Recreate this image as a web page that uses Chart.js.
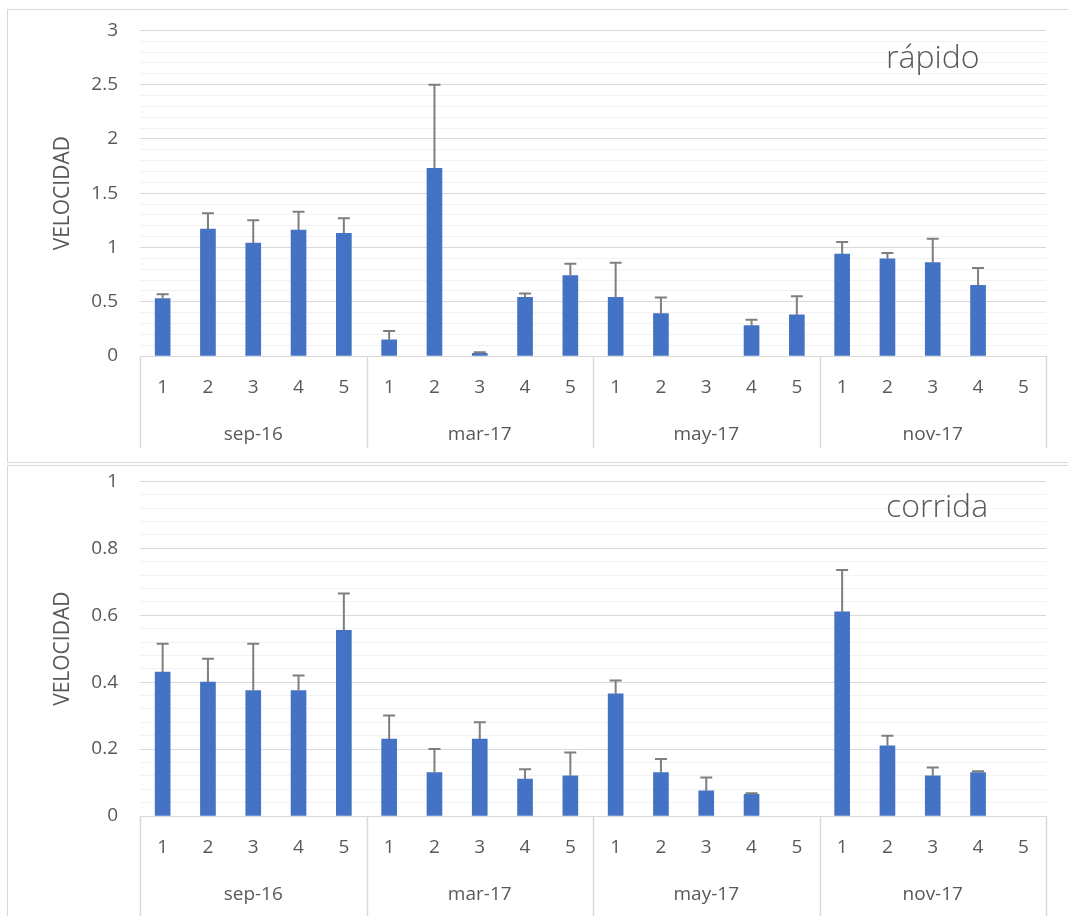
<!DOCTYPE html>
<html lang="es">
<head>
<meta charset="utf-8">
<script src="https://cdn.jsdelivr.net/npm/chart.js@4.4.1/dist/chart.umd.min.js"></script>
<style>
    body { margin: 0; background: #fff; width: 1068px; height: 916px; overflow: hidden; position: relative; }
    .marco { position: absolute; left: 7px; width: 1100px; border: 1px solid #d9d9d9; box-sizing: border-box; }
    #marcoRapido { top: 9px; height: 454px; }
    #marcoCorrida { top: 465px; height: 470px; }
    .lienzo { position: absolute; left: 0; width: 1068px; }
    #wrapRapido { top: -3px; height: 466px; }
    #wrapCorrida { top: 448px; height: 468px; }
</style>
</head>
<body>
<div class="marco" id="marcoRapido"></div>
<div class="marco" id="marcoCorrida"></div>
<div class="lienzo" id="wrapRapido"><canvas id="chartRapido"></canvas></div>
<div class="lienzo" id="wrapCorrida"><canvas id="chartCorrida"></canvas></div>
<script>
// Datos
const CATEGORIAS = ['1', '2', '3', '4', '5', '1', '2', '3', '4', '5', '1', '2', '3', '4', '5', '1', '2', '3', '4', '5'];
const GRUPOS = ['sep-16', 'mar-17', 'may-17', 'nov-17'];
const POR_GRUPO = 5;

// rápido (media y barra de error positiva)
const RAPIDO_VALORES = [0.53, 1.17, 1.04, 1.16, 1.13, 0.15, 1.73, 0.025, 0.54, 0.74, 0.54, 0.39, null, 0.28, 0.38, 0.94, 0.895, 0.86, 0.65, null];
const RAPIDO_ERROR = [0.04, 0.145, 0.21, 0.17, 0.14, 0.08, 0.77, 0.01, 0.035, 0.11, 0.32, 0.15, null, 0.055, 0.17, 0.11, 0.055, 0.22, 0.16, null];

// corrida
const CORRIDA_VALORES = [0.43, 0.40, 0.375, 0.375, 0.555, 0.23, 0.13, 0.23, 0.11, 0.12, 0.365, 0.13, 0.075, 0.065, null, 0.61, 0.21, 0.12, 0.13, null];
const CORRIDA_ERROR = [0.085, 0.07, 0.14, 0.045, 0.11, 0.07, 0.07, 0.05, 0.03, 0.07, 0.04, 0.04, 0.04, 0.003, null, 0.125, 0.03, 0.025, 0.004, null];

const FUENTE = "'Open Sans', sans-serif";
const GRIS_TEXTO = '#595959';
const AZUL = '#4472c4';

// Barras de error (solo hacia arriba, con tapa)
const barrasError = {
    id: 'barrasError',
    afterDatasetsDraw(chart, args, opts) {
        const meta = chart.getDatasetMeta(0);
        const y = chart.scales.y;
        const datos = chart.data.datasets[0].data;
        const ctx = chart.ctx;
        ctx.save();
        ctx.strokeStyle = '#7f7f7f';
        ctx.lineWidth = 2;
        meta.data.forEach((barra, i) => {
            const v = datos[i];
            const e = opts.errores[i];
            if (v == null || e == null) return;
            const yTop = y.getPixelForValue(v + e);
            ctx.beginPath();
            ctx.moveTo(barra.x, barra.y);
            ctx.lineTo(barra.x, yTop);
            ctx.moveTo(barra.x - 6, yTop);
            ctx.lineTo(barra.x + 6, yTop);
            ctx.stroke();
        });
        ctx.restore();
    }
};

// Eje de categorías en dos niveles + título dentro del gráfico
const ejeGrupos = {
    id: 'ejeGrupos',
    afterDraw(chart, args, opts) {
        const x = chart.scales.x;
        const base = chart.scales.y.bottom;
        const ctx = chart.ctx;
        ctx.save();
        ctx.fillStyle = GRIS_TEXTO;
        ctx.textAlign = 'center';
        ctx.textBaseline = 'middle';
        ctx.font = '19px ' + FUENTE;
        CATEGORIAS.forEach((c, i) => {
            ctx.fillText(c, x.getPixelForValue(i), base + 32);
        });

        // separadores entre grupos
        const limites = [x.left];
        for (let g = 1; g < GRUPOS.length; g++) {
            const i = g * POR_GRUPO;
            limites.push((x.getPixelForValue(i - 1) + x.getPixelForValue(i)) / 2);
        }
        limites.push(x.right);
        ctx.strokeStyle = '#d9d9d9';
        ctx.lineWidth = 1.5;
        limites.forEach(px => {
            ctx.beginPath();
            ctx.moveTo(Math.round(px) + 0.5, base);
            ctx.lineTo(Math.round(px) + 0.5, base + opts.largo);
            ctx.stroke();
        });
        GRUPOS.forEach((g, k) => {
            ctx.fillText(g, (limites[k] + limites[k + 1]) / 2, base + 79);
        });

        // título
        ctx.font = '300 32px ' + FUENTE;
        ctx.textAlign = 'left';
        ctx.textBaseline = 'alphabetic';
        ctx.fillText(opts.titulo, 886, opts.tituloY);
        ctx.restore();
    }
};

function esMayor(v, mayor) {
    const r = v / mayor;
    return Math.abs(r - Math.round(r)) < 1e-6;
}

function crearGrafico(id, valores, errores, eje) {
    const ctx = document.getElementById(id).getContext('2d');
    return new Chart(ctx, {
        type: 'bar',
        data: {
            labels: CATEGORIAS,
            datasets: [{
                data: valores,
                backgroundColor: AZUL,
                barThickness: 15
            }]
        },
        options: {
            responsive: true,
            maintainAspectRatio: false,
            animation: false,
            layout: { padding: { left: 46, right: 22, top: 32, bottom: 0 } },
            plugins: {
                legend: { display: false },
                tooltip: { enabled: false },
                barrasError: { errores: errores },
                ejeGrupos: { titulo: eje.titulo, tituloY: eje.tituloY, largo: eje.largo }
            },
            scales: {
                x: {
                    grid: { display: false },
                    border: { display: false },
                    ticks: { display: false },
                    afterFit(scale) { scale.height = eje.abajo; }
                },
                y: {
                    min: eje.min,
                    max: eje.max,
                    border: { display: false },
                    grid: {
                        drawTicks: false,
                        lineWidth: 1,
                        color: c => (c.tick && esMayor(c.tick.value, eje.mayor)) ? '#d9d9d9' : '#f2f2f2'
                    },
                    ticks: {
                        stepSize: eje.paso,
                        maxTicksLimit: 100,
                        autoSkip: false,
                        padding: 22,
                        color: GRIS_TEXTO,
                        font: { family: FUENTE, size: 19 },
                        callback: v => esMayor(v, eje.mayor) ? String(Number(v.toFixed(2))) : ''
                    },
                    title: {
                        display: true,
                        text: 'VELOCIDAD',
                        color: GRIS_TEXTO,
                        font: { family: FUENTE, size: 21 }
                    },
                    afterFit(scale) { scale.width = 94; }
                }
            }
        },
        plugins: [barrasError, ejeGrupos]
    });
}

crearGrafico('chartRapido', RAPIDO_VALORES, RAPIDO_ERROR,
    { min: 0, max: 3, paso: 0.1, mayor: 0.5, abajo: 107, titulo: 'rápido', tituloY: 71, largo: 92 });
crearGrafico('chartCorrida', CORRIDA_VALORES, CORRIDA_ERROR,
    { min: 0, max: 1, paso: 0.04, mayor: 0.2, abajo: 100, titulo: 'corrida', tituloY: 69, largo: 100 });
</script>
</body>
</html>
